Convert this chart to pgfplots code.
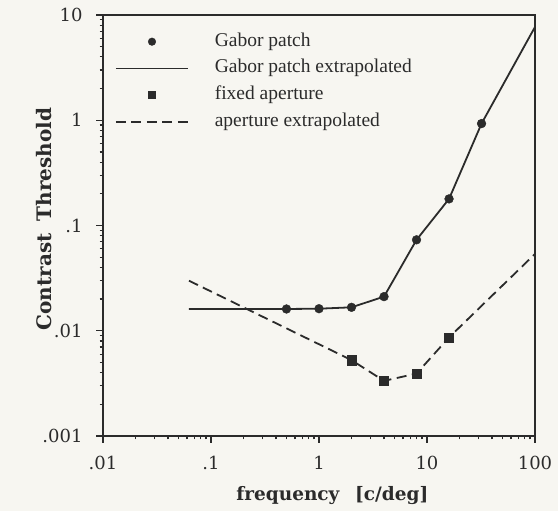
\documentclass[border=0pt]{standalone}
\usepackage{fontspec}
\setmainfont{Liberation Serif}
\newfontfamily\labelfont{DejaVu Serif}
\usepackage{pgfplots}
\pgfplotsset{compat=1.18}

\definecolor{ink}{gray}{0.17}
\definecolor{paper}{RGB}{247,246,241}

% Gabor patch thresholds
\pgfplotstableread{
x     y
0.5   0.0161
1     0.0162
2     0.0167
4     0.0211
8     0.0731
16    0.179
32    0.93
}\gabor
% extrapolated Gabor curve
\pgfplotstableread{
x       y
0.0625  0.0161
0.5     0.0161
1       0.0162
2       0.0167
4       0.0211
8       0.0731
16      0.179
32      0.93
100     7.7
}\gaborext
% fixed aperture thresholds
\pgfplotstableread{
x     y
2     0.00526
4     0.00334
8     0.00392
16    0.00864
}\aperture
% extrapolated aperture curve
\pgfplotstableread{
x       y
0.0625  0.0299
2       0.00526
4       0.00334
8       0.00392
16      0.00864
100     0.0537
}\apertureext

\newcommand\xlabfont{\labelfont\bfseries\fontsize{18.5bp}{21bp}\selectfont}
\newcommand\ylabfont{\labelfont\bfseries\fontsize{20bp}{23bp}\selectfont}
\newcommand\tickfont{\labelfont\fontsize{18bp}{21bp}\selectfont}

\begin{document}
\begin{tikzpicture}
\fill[paper] (-103bp,-75bp) rectangle (455bp,436bp);
\begin{axis}[
  name=ax,
  at={(0,0)}, anchor=south west,
  scale only axis, width=432bp, height=421bp,
  xmode=log, ymode=log,
  xmin=0.01, xmax=100, ymin=0.001, ymax=10,
  axis line style={ink, line width=1.6bp},
  tick align=outside, tick pos=left,
  major tick length=7bp, minor tick length=3.5bp,
  every tick/.style={ink, line width=1.2bp},
  xtick={0.01,0.1,1,10,100},
  xticklabels={\mbox{.01},\mbox{.1},\mbox{1},\mbox{10},\mbox{100}},
  ytick={0.001,0.01,0.1,1,10},
  yticklabels={\mbox{.001},\mbox{.01},\mbox{.1},\mbox{1},\mbox{10}},
  minor xtick={0.02,0.03,0.04,0.05,0.06,0.07,0.08,0.09,
               0.2,0.3,0.4,0.5,0.6,0.7,0.8,0.9,
               2,3,4,5,6,7,8,9,20,30,40,50,60,70,80,90},
  minor ytick={0.002,0.003,0.004,0.005,0.006,0.007,0.008,0.009,
               0.02,0.03,0.04,0.05,0.06,0.07,0.08,0.09,
               0.2,0.3,0.4,0.5,0.6,0.7,0.8,0.9,
               2,3,4,5,6,7,8,9},
  ticklabel style={font=\tickfont, text=ink},
  xticklabel style={yshift=-10bp},
  yticklabel style={xshift=-10bp},
  xlabel={frequency\hspace{0.85em}[c/deg]},
  ylabel={Contrast\hspace{0.6em}Threshold},
  every axis x label/.style={at={(axis description cs:0.531,0)}, anchor=base,
    yshift=-64bp, font=\xlabfont, text=ink},
  every axis y label/.style={at={(axis description cs:0,0.515)}, rotate=90,
    anchor=base, yshift=51bp, font=\ylabfont, text=ink},
  clip=false,
  legend image code/.code={\draw[mark repeat=2,mark phase=2,#1]
      plot coordinates {(0bp,0bp) (36bp,0bp) (72bp,0bp)};},
  legend cell align=left,
  legend style={at={(axis description cs:0,1)}, anchor=north west,
    xshift=12bp, yshift=-18bp, draw=none, fill=none, inner sep=0pt,
    row sep=9.7bp, column sep=26bp,
    nodes={inner sep=0pt, text height=13bp, text depth=4bp, text=ink,
           font=\fontsize{19.5bp}{22bp}\selectfont}},
]
\addlegendimage{only marks, mark=*, mark size=3.8bp, ink}
\addlegendentry{Gabor patch}
\addlegendimage{ink, line width=1.6bp}
\addlegendentry{Gabor patch extrapolated}
\addlegendimage{only marks, mark=square*, mark size=3.6bp, ink}
\addlegendentry{fixed aperture}
\addlegendimage{ink, line width=1.6bp, dash pattern=on 10bp off 5.5bp}
\addlegendentry{aperture extrapolated}

\addplot[ink, line width=1.8bp, forget plot] table {\gaborext};
\addplot[only marks, mark=*, mark size=4.4bp, ink, forget plot] table {\gabor};
\addplot[ink, line width=1.8bp, dash pattern=on 10bp off 5.5bp, forget plot] table {\apertureext};
\addplot[only marks, mark=square*, mark size=4.6bp, ink, forget plot] table {\aperture};
\end{axis}
\pgfresetboundingbox
\path (-103bp,-75bp) rectangle (455bp,436bp);
\end{tikzpicture}
\end{document}
